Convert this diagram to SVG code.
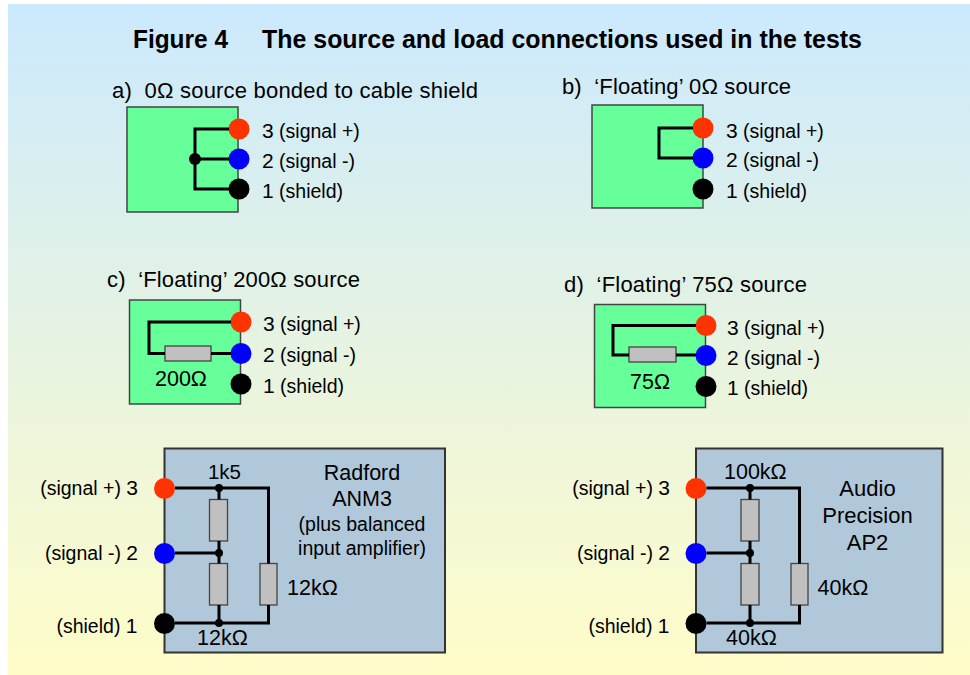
<svg xmlns="http://www.w3.org/2000/svg" width="970" height="675" viewBox="0 0 970 675">
<defs>
<linearGradient id="bg" x1="0" y1="0" x2="0" y2="1">
<stop offset="0" stop-color="#cbe9fd"/>
<stop offset="0.5" stop-color="#e6f3e2"/>
<stop offset="1" stop-color="#fffcc8"/>
</linearGradient>
<style>
text{font-family:"Liberation Sans",Arial,sans-serif;fill:#000;white-space:pre}
.title{font-weight:bold;font-size:25px}
.lbl{font-size:22px}
.big{font-size:21px}
.sm{font-size:19.5px}
.val{font-size:21.5px}
.src{fill:#66ff99;stroke:#444;stroke-width:1.5}
.load{fill:#b0c8da;stroke:#333;stroke-width:2}
.res{fill:#c0c0c0;stroke:#444;stroke-width:1.3}
.p3{fill:#ff3300}
.p2{fill:#0000ff}
.p1{fill:#000}
.dot{fill:#000}
.w{fill:none;stroke:#000;stroke-width:3}
</style>
</defs>
<rect x="8" y="4" width="962" height="671" fill="url(#bg)"/>
<g id="title">
<text class="title" x="133" y="48" textLength="95" lengthAdjust="spacingAndGlyphs">Figure 4</text>
<text class="title" x="262" y="48" textLength="600" lengthAdjust="spacingAndGlyphs">The source and load connections used in the tests</text>
</g>

<g id="source-a">
<text class="lbl" x="112" y="98" xml:space="preserve" textLength="366">a)  0Ω source bonded to cable shield</text>
<rect class="src" x="127" y="107" width="111" height="105"/>
<circle class="dot" cx="195" cy="159" r="6"/>
<circle class="p3" cx="239" cy="129" r="10.5"/>
<circle class="p2" cx="239" cy="159" r="10.5"/>
<circle class="p1" cx="239" cy="189" r="10.5"/>
<text x="262" y="137.5"><tspan class="big">3</tspan><tspan class="sm"> (signal +)</tspan></text>
<text x="262" y="167.5"><tspan class="big">2</tspan><tspan class="sm"> (signal -)</tspan></text>
<text x="262" y="197.5"><tspan class="big">1</tspan><tspan class="sm"> (shield)</tspan></text>
</g>

<g id="source-b">
<text class="lbl" x="562" y="94" xml:space="preserve" textLength="229">b)  ‘Floating’ 0Ω source</text>
<rect class="src" x="592" y="105" width="111" height="103"/>
<circle class="p3" cx="703" cy="128" r="10.5"/>
<circle class="p2" cx="703" cy="158" r="10.5"/>
<circle class="p1" cx="703" cy="189" r="10.5"/>
<text x="726" y="137.5"><tspan class="big">3</tspan><tspan class="sm"> (signal +)</tspan></text>
<text x="726" y="167"><tspan class="big">2</tspan><tspan class="sm"> (signal -)</tspan></text>
<text x="726" y="197.5"><tspan class="big">1</tspan><tspan class="sm"> (shield)</tspan></text>
</g>

<g id="source-c">
<text class="lbl" x="107" y="287" xml:space="preserve" textLength="253">c)  ‘Floating’ 200Ω source</text>
<rect class="src" x="129.5" y="300" width="111" height="104"/>
<rect class="res" x="165" y="346" width="46" height="15"/>
<text class="val" x="155" y="386">200Ω</text>
<circle class="p3" cx="241" cy="322" r="10.5"/>
<circle class="p2" cx="241" cy="353.5" r="10.5"/>
<circle class="p1" cx="241" cy="384" r="10.5"/>
<text x="263" y="331"><tspan class="big">3</tspan><tspan class="sm"> (signal +)</tspan></text>
<text x="263" y="362"><tspan class="big">2</tspan><tspan class="sm"> (signal -)</tspan></text>
<text x="263" y="392.5"><tspan class="big">1</tspan><tspan class="sm"> (shield)</tspan></text>
</g>

<g id="source-d">
<text class="lbl" x="564" y="292" xml:space="preserve" textLength="243">d)  ‘Floating’ 75Ω source</text>
<rect class="src" x="594.5" y="304.5" width="111" height="103"/>
<rect class="res" x="629" y="347" width="47" height="15"/>
<text class="val" x="630" y="388.5">75Ω</text>
<circle class="p3" cx="706" cy="325.5" r="10.5"/>
<circle class="p2" cx="706" cy="355.5" r="10.5"/>
<circle class="p1" cx="706" cy="386.5" r="10.5"/>
<text x="727" y="334.5"><tspan class="big">3</tspan><tspan class="sm"> (signal +)</tspan></text>
<text x="727" y="365"><tspan class="big">2</tspan><tspan class="sm"> (signal -)</tspan></text>
<text x="727" y="395"><tspan class="big">1</tspan><tspan class="sm"> (shield)</tspan></text>
</g>

<g id="load-radford">
<rect class="load" x="164.5" y="448.5" width="280.5" height="204"/>
<rect class="res" x="209.5" y="499.5" width="18" height="41.5"/>
<rect class="res" x="209.5" y="563.5" width="18" height="41.5"/>
<rect class="res" x="260" y="563.5" width="17" height="41.5"/>
<circle class="dot" cx="219" cy="488" r="4"/>
<circle class="dot" cx="219" cy="553" r="4"/>
<circle class="dot" cx="219" cy="623" r="4"/>
<circle class="p3" cx="164.5" cy="488.5" r="10.5"/>
<circle class="p2" cx="164.5" cy="553.5" r="10.5"/>
<circle class="p1" cx="164.5" cy="623.5" r="10.5"/>
<text class="val" x="224.5" y="478.5" text-anchor="middle" style="font-size:20.5px">1k5</text>
<text class="val" x="287" y="595">12kΩ</text>
<text class="val" x="197" y="645">12kΩ</text>
<text class="big" x="362" y="479.5" text-anchor="middle" style="font-size:21.5px">Radford</text>
<text class="big" x="362" y="505.5" text-anchor="middle" style="font-size:21.5px">ANM3</text>
<text class="sm" x="362" y="530.5" text-anchor="middle" style="font-size:19.5px">(plus balanced</text>
<text class="sm" x="362" y="555" text-anchor="middle" style="font-size:19.5px">input amplifier)</text>
<text x="138" y="495" text-anchor="end"><tspan class="sm">(signal +) </tspan><tspan class="big">3</tspan></text>
<text x="138" y="560" text-anchor="end"><tspan class="sm">(signal -) </tspan><tspan class="big">2</tspan></text>
<text x="137.5" y="633" text-anchor="end"><tspan class="sm">(shield) </tspan><tspan class="big">1</tspan></text>
</g>

<g id="load-ap2">
<rect class="load" x="696" y="448.5" width="246.5" height="204"/>
<rect class="res" x="741" y="499.5" width="18" height="41.5"/>
<rect class="res" x="741" y="563.5" width="18" height="41.5"/>
<rect class="res" x="791" y="563.5" width="17" height="41.5"/>
<circle class="dot" cx="750" cy="488" r="4"/>
<circle class="dot" cx="750" cy="553" r="4"/>
<circle class="dot" cx="750" cy="623" r="4"/>
<circle class="p3" cx="696" cy="488.5" r="10.5"/>
<circle class="p2" cx="696" cy="553.5" r="10.5"/>
<circle class="p1" cx="696" cy="623.5" r="10.5"/>
<text class="val" x="724" y="478.5">100kΩ</text>
<text class="val" x="817.5" y="595">40kΩ</text>
<text class="val" x="726" y="645">40kΩ</text>
<text class="big" x="867.5" y="495.5" text-anchor="middle" style="font-size:22px">Audio</text>
<text class="big" x="867.5" y="522.5" text-anchor="middle" style="font-size:22px">Precision</text>
<text class="big" x="867.5" y="550" text-anchor="middle" style="font-size:22px">AP2</text>
<text x="670" y="495" text-anchor="end"><tspan class="sm">(signal +) </tspan><tspan class="big">3</tspan></text>
<text x="670" y="560" text-anchor="end"><tspan class="sm">(signal -) </tspan><tspan class="big">2</tspan></text>
<text x="669.5" y="633" text-anchor="end"><tspan class="sm">(shield) </tspan><tspan class="big">1</tspan></text>
</g>

<g id="connectors">
<path class="w" d="M229,129 H195 V189 H229 M195,159 H229"/>
<path class="w" d="M693,128 H659 V158 H693"/>
<path class="w" d="M231,322 H149 V353.5 H165 M211,353.5 H231"/>
<path class="w" d="M696,325.5 H613 V355 H629 M676,355 H696"/>
<path class="w" d="M175,488 H268.5 V563.5 M268.5,605 V623 H175 M175,553 H219 M219,488 V499.5 M219,541 V563.5 M219,605 V623"/>
<path class="w" d="M706.5,488 H799.5 V563.5 M799.5,605 V623 H706.5 M706.5,553 H750 M750,488 V499.5 M750,541 V563.5 M750,605 V623"/>
</g>
</svg>
